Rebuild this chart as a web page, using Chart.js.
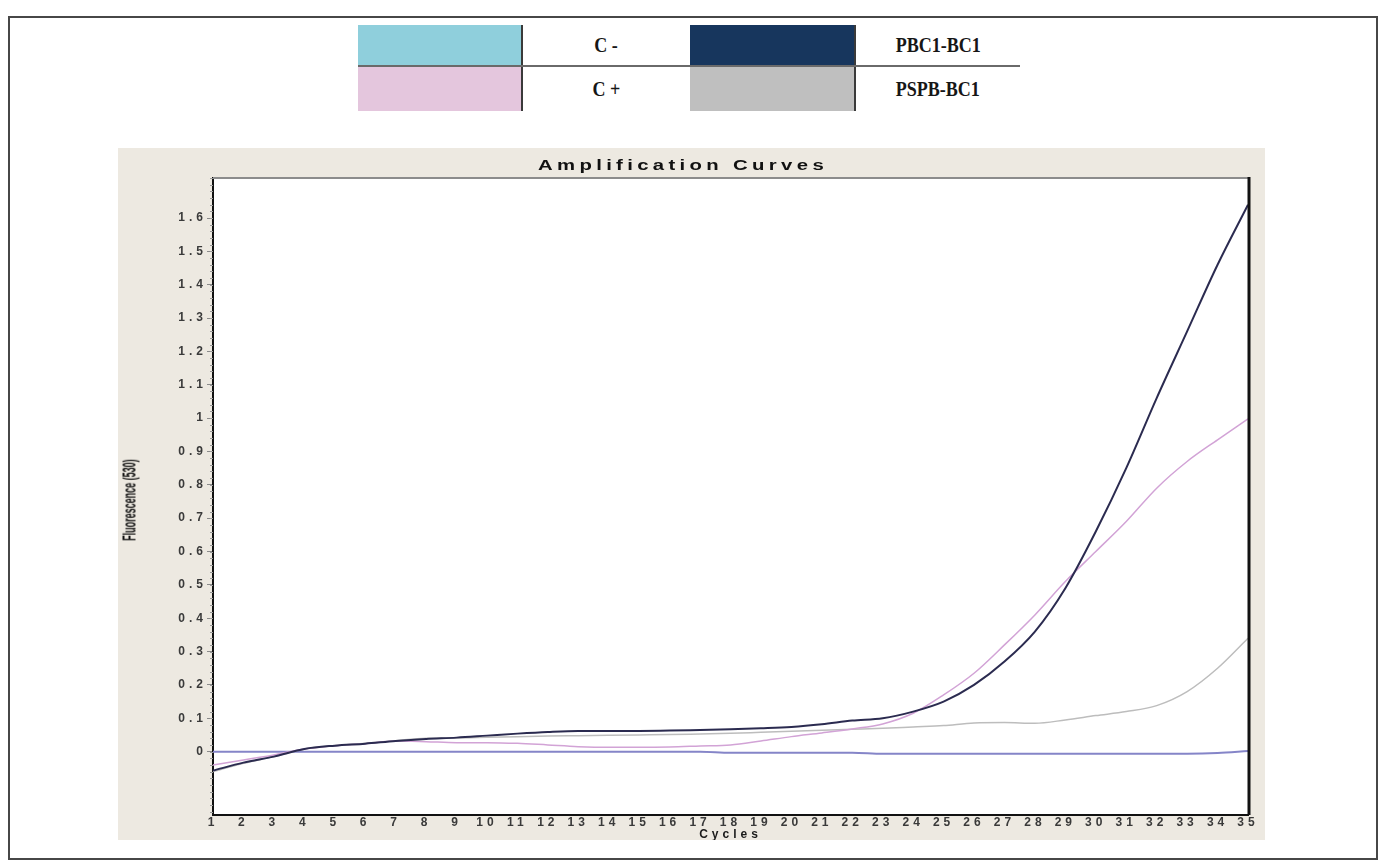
<!DOCTYPE html>
<html>
<head>
<meta charset="utf-8">
<script src="https://cdn.jsdelivr.net/npm/chart.js@4.4.1/dist/chart.umd.min.js"></script>
<style>
  body { margin: 0; background: #fff; width: 1383px; height: 865px; position: relative; overflow: hidden; }
  #frame { position: absolute; left: 8px; top: 16px; width: 1366px; height: 840px; border: 2px solid #474747; box-sizing: content-box; }
  #legend { position: absolute; left: 358px; top: 25px; border-collapse: collapse; font-family: "Liberation Serif", "Times New Roman", serif; font-weight: bold; font-size: 20px; color: #161616; }
  #legend td { padding: 0; text-align: center; }
  #legend tr.r1 td { height: 40px; border-bottom: 2px solid #6a6a6a; }
  #legend tr.r2 td { height: 44px; }
  #legend td.sw { border-right: 2px solid #3a3a3a; }
  #legend span { display: inline-block; transform: scaleX(0.9); }
  #panel { position: absolute; left: 118px; top: 148px; width: 1147px; height: 692px; background: #ede9e1; }
  #chart { position: absolute; left: 0; top: 0; }
  #title { position: absolute; left: 565px; top: 17px; transform: translate(-50%, -50%) scaleX(1.45); font-family: "Liberation Sans", Arial, sans-serif; font-weight: bold; font-size: 14px; letter-spacing: 3px; color: #111; white-space: nowrap; }
  #ytitle { position: absolute; left: 12px; top: 352px; transform: translate(-50%, -50%) rotate(-90deg) scaleX(0.5); font-family: "Liberation Sans", Arial, sans-serif; font-weight: bold; font-size: 18px; color: #111; white-space: nowrap; }
</style>
</head>
<body>
<div id="frame"></div>
<table id="legend">
  <tr class="r1">
    <td class="sw" style="width:163px;background:#8fcfdc"></td>
    <td style="width:167px"><span>C -</span></td>
    <td class="sw" style="width:164px;background:#17365d"></td>
    <td style="width:164px"><span>PBC1-BC1</span></td>
  </tr>
  <tr class="r2">
    <td class="sw" style="background:#e4c6dd"></td>
    <td><span>C +</span></td>
    <td class="sw" style="background:#bfbfbf"></td>
    <td><span>PSPB-BC1</span></td>
  </tr>
</table>
<div id="panel">
  <canvas id="chart" width="1147" height="692"></canvas>
  <div id="title">Amplification Curves</div>
  <div id="ytitle">Fluorescence (530)</div>
</div>
<script>
// cycle numbers on the x axis
const cycles = [1, 2, 3, 4, 5, 6, 7, 8, 9, 10, 11, 12, 13, 14, 15, 16, 17, 18, 19, 20,
    21, 22, 23, 24, 25, 26, 27, 28, 29, 30, 31, 32, 33, 34, 35];

// fluorescence per cycle
const pbc1Values = [-0.057, -0.033, -0.015, 0.008, 0.018, 0.024, 0.032, 0.038, 0.042, 0.048,
    0.054, 0.059, 0.062, 0.062, 0.062, 0.063, 0.065, 0.067, 0.070, 0.074,
    0.082, 0.093, 0.100, 0.120, 0.150, 0.200, 0.270, 0.360, 0.490, 0.660,
    0.850, 1.060, 1.260, 1.460, 1.640];
const cPlusValues = [-0.040, -0.025, -0.010, 0.008, 0.018, 0.024, 0.032, 0.030, 0.027, 0.027,
    0.025, 0.020, 0.015, 0.013, 0.013, 0.014, 0.017, 0.020, 0.032, 0.045,
    0.056, 0.068, 0.083, 0.115, 0.170, 0.235, 0.320, 0.410, 0.510, 0.600,
    0.690, 0.790, 0.870, 0.935, 0.998];
const pspbValues = [-0.060, -0.035, -0.015, 0.008, 0.018, 0.025, 0.033, 0.040, 0.041, 0.043,
    0.045, 0.047, 0.048, 0.049, 0.050, 0.051, 0.053, 0.055, 0.058, 0.061,
    0.064, 0.067, 0.070, 0.074, 0.078, 0.086, 0.087, 0.085, 0.095, 0.108,
    0.120, 0.138, 0.180, 0.250, 0.340];
const cMinusValues = [0, 0, 0, 0, 0, 0, 0, 0, 0, 0,
    0, 0, 0, 0, 0, 0, 0, -0.003, -0.003, -0.003,
    -0.003, -0.003, -0.006, -0.006, -0.006, -0.006, -0.006, -0.006, -0.006, -0.006,
    -0.006, -0.006, -0.006, -0.004, 0.002];

// labelled y ticks
const yTickValues = [0, 0.1, 0.2, 0.3, 0.4, 0.5, 0.6, 0.7, 0.8, 0.9,
    1, 1.1, 1.2, 1.3, 1.4, 1.5, 1.6];

const plotFrame = {
    id: "plotFrame",
    beforeDraw(chart) {
        const { ctx, chartArea: a } = chart;
        ctx.save();
        ctx.fillStyle = "#ffffff";
        ctx.fillRect(a.left, a.top, a.right - a.left, a.bottom - a.top);
        ctx.restore();
        // the instrument software prints spaced-out digits
        ctx.letterSpacing = "4px";
    },
    afterDraw(chart) {
        const { ctx, chartArea: a, scales: { y } } = chart;
        ctx.save();
        ctx.strokeStyle = "#8c8c8c";
        ctx.lineWidth = 2;
        ctx.beginPath();
        ctx.moveTo(a.left, a.top);
        ctx.lineTo(a.right, a.top);
        ctx.stroke();

        ctx.strokeStyle = "#111";
        ctx.lineWidth = 3;
        ctx.beginPath();
        ctx.moveTo(a.right + 1, a.top - 1);
        ctx.lineTo(a.right + 1, a.bottom);
        ctx.stroke();

        // minor ticks every 0.02 on the y axis
        ctx.strokeStyle = "#9a9a9a";
        ctx.lineWidth = 1;
        ctx.beginPath();
        for (let k = Math.ceil(y.min / 0.02); k <= Math.floor(y.max / 0.02); k++) {
            const py = Math.round(y.getPixelForValue(k * 0.02)) + 0.5;
            ctx.moveTo(a.left - 3, py);
            ctx.lineTo(a.left, py);
        }
        ctx.stroke();
        ctx.restore();
    }
};

const tickFont = { family: "'Liberation Sans', Arial, sans-serif", size: 12, weight: "bold" };

const ctx = document.getElementById("chart").getContext("2d");
new Chart(ctx, {
    type: "line",
    data: {
        labels: cycles,
        datasets: [
            { label: "PBC1-BC1", data: pbc1Values, borderColor: "#2b2b50", borderWidth: 2 },
            { label: "C +", data: cPlusValues, borderColor: "#d2a3d6", borderWidth: 1.5 },
            { label: "PSPB-BC1", data: pspbValues, borderColor: "#bdbdbd", borderWidth: 1.5 },
            { label: "C -", data: cMinusValues, borderColor: "#8585c8", borderWidth: 2 }
        ]
    },
    options: {
        responsive: false,
        animation: false,
        devicePixelRatio: 1,
        layout: { padding: { top: 30, right: 17, left: 0, bottom: 0 } },
        elements: {
            point: { radius: 0 },
            line: { fill: false, cubicInterpolationMode: "monotone" }
        },
        plugins: {
            legend: { display: false },
            tooltip: { enabled: false }
        },
        scales: {
            x: {
                type: "category",
                offset: false,
                grid: { display: false, drawTicks: false },
                border: { display: true, color: "#111", width: 2 },
                ticks: { autoSkip: false, maxRotation: 0, padding: 0, color: "#3a3a3a", font: tickFont },
                title: {
                    display: true,
                    text: "Cycles",
                    color: "#1a1a1a",
                    font: { family: "'Liberation Sans', Arial, sans-serif", size: 12, weight: "bold" },
                    padding: { top: 0, bottom: -2 }
                },
                afterFit(scale) { scale.height = 25; }
            },
            y: {
                min: -0.19,
                max: 1.72,
                grid: { display: true, drawOnChartArea: false, drawTicks: true, tickLength: 6, color: "#8a8a8a" },
                border: { display: true, color: "#111", width: 2 },
                ticks: {
                    padding: 0,
                    color: "#3a3a3a",
                    font: tickFont,
                    callback: v => Number(v.toFixed(1)).toString()
                },
                afterBuildTicks(scale) {
                    scale.ticks = yTickValues.map(v => ({ value: v }));
                },
                afterFit(scale) { scale.width = 95; }
            }
        }
    },
    plugins: [plotFrame]
});
</script>
</body>
</html>
